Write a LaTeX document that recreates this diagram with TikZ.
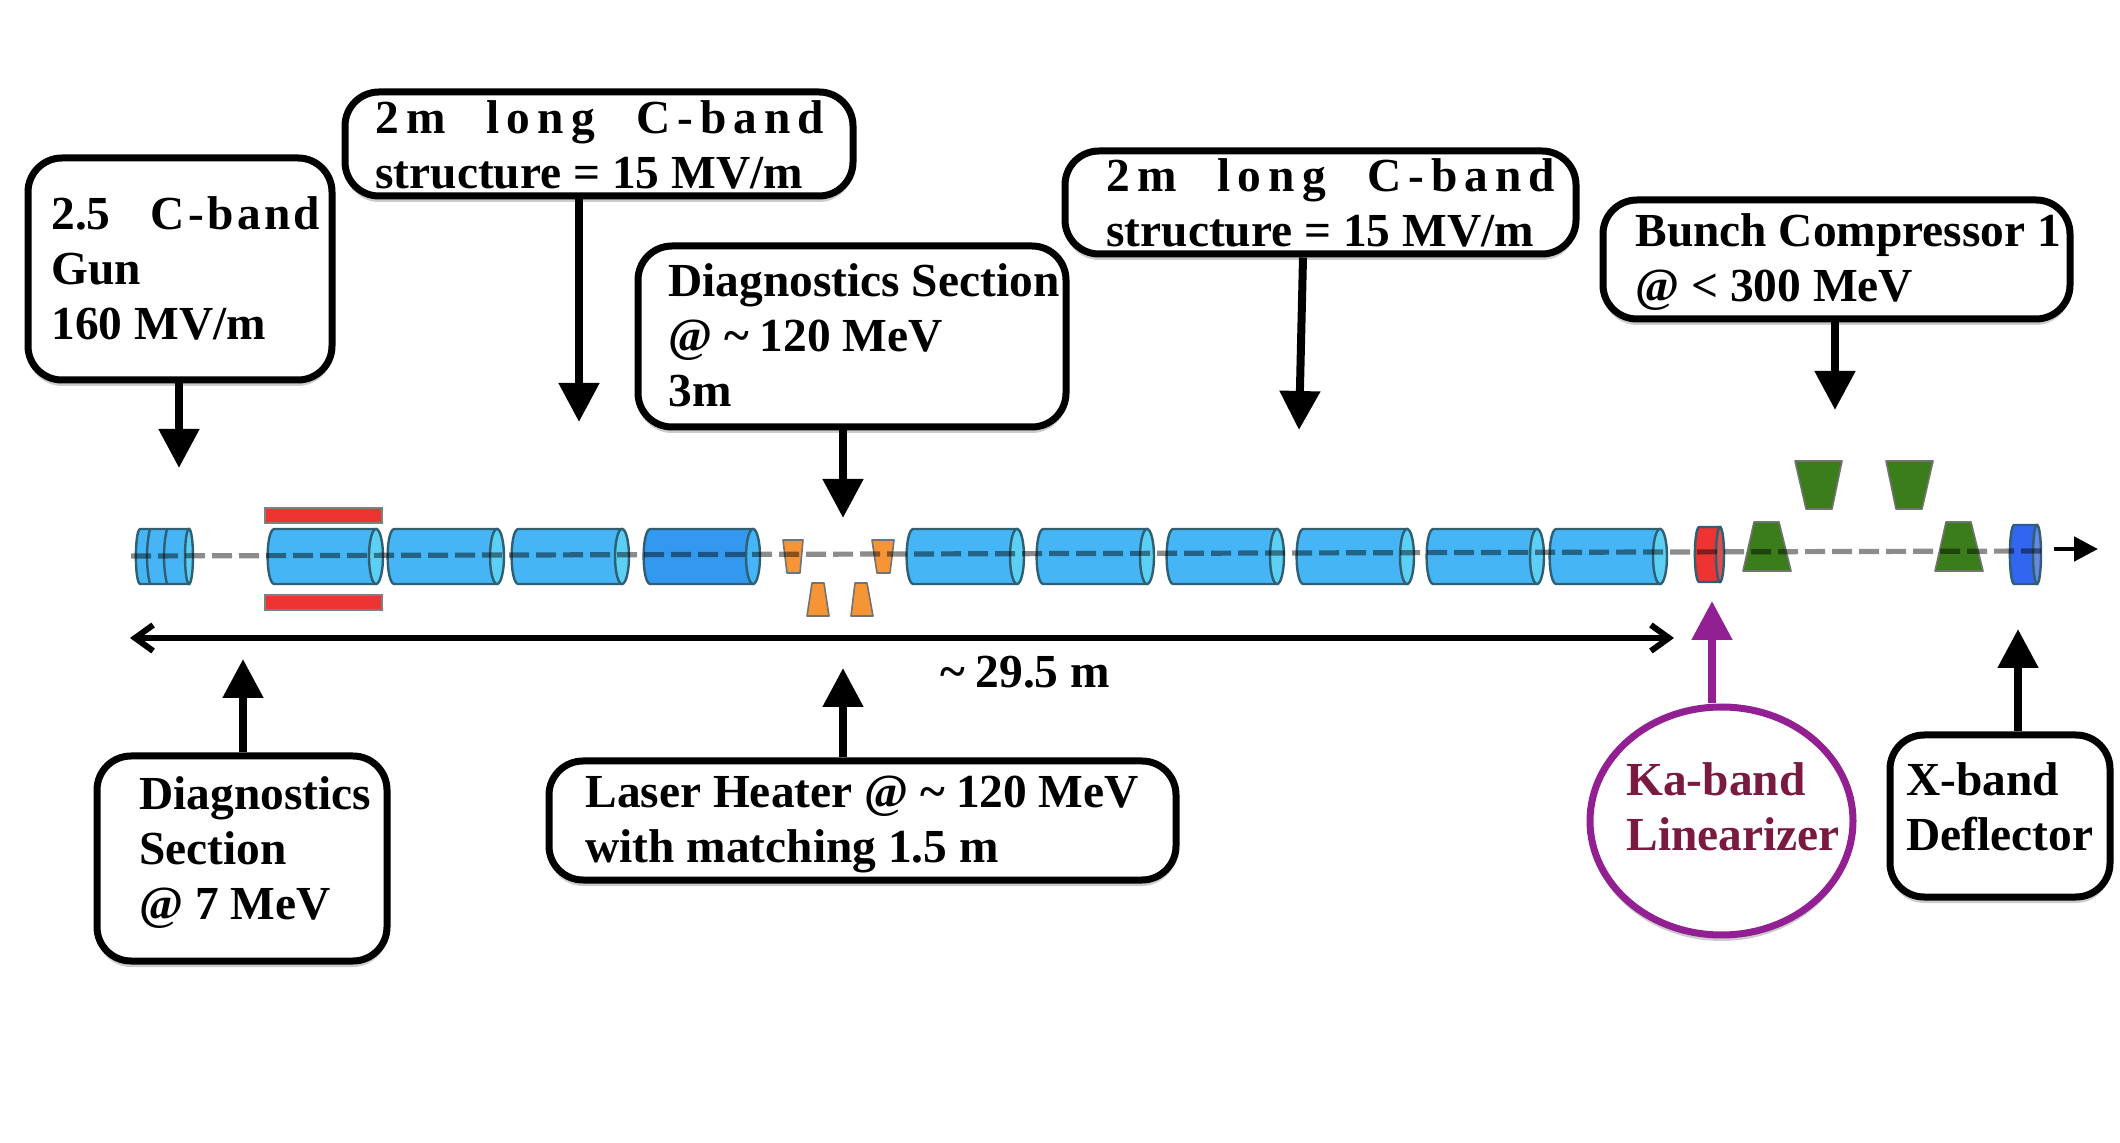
\documentclass[tikz,border=0pt]{standalone}
\usepackage{fontspec}
\setmainfont{Liberation Serif}
\usetikzlibrary{arrows.meta,shapes.geometric,shadows,calc}
\definecolor{cylblue}{HTML}{45B5F5}
\definecolor{capblue}{HTML}{5CCFF5}
\definecolor{deepblue}{HTML}{3399F0}
\definecolor{cyledge}{HTML}{2F5F72}
\definecolor{barred}{HTML}{EE3333}
\definecolor{capred}{HTML}{D85050}
\definecolor{defblue}{HTML}{3366F0}
\definecolor{capdef}{HTML}{6688E0}
\definecolor{bendgreen}{HTML}{3A7D1A}
\definecolor{heatorange}{HTML}{F59535}
\definecolor{kapurple}{HTML}{932092}
\definecolor{kamaroon}{HTML}{7A1A40}
\newcommand\fl[3]{\makebox[#1pt][s]{\addfontfeature{LetterSpace=#2}#3}}
\newcommand\tld{\textasciitilde\hspace{5.5pt}}
% x1 x2 ytop ybot cap-rx body cap
\newcommand\cyl[7]{%
  \pgfmathsetmacro\ex{#2-#5}\pgfmathsetmacro\lx{#1+#5}\pgfmathsetmacro\my{(#3+#4)/2}\pgfmathsetmacro\ry{(#4-#3)/2}%
  \pgfmathsetmacro\ya{#3+2}\pgfmathsetmacro\yb{#4-2}\pgfmathsetmacro\xa{#1-1.5}%
  \draw[cylline,fill=#6] (\lx,#3) .. controls (\xa,\ya) and (\xa,\yb) .. (\lx,#4) -- (\ex,#4) -- (\ex,#3) -- cycle;
  \draw[cylline,fill=#7] (\ex,\my) ellipse [x radius=#5, y radius=\ry];
}
% xtopL xtopR xbotL xbotR ytop ybot colour
\newcommand\trp[7]{\draw[trapline,fill=#7] (#1,#5) -- (#2,#5) -- (#4,#6) -- (#3,#6) -- cycle;}
% name x1 y1 x2 y2 : rounded box
\newcommand\bx[5]{%
  \pgfmathsetmacro\bw{(#4-#2)*0.5}\pgfmathsetmacro\bh{(#5-#3)*0.5}%
  \node[callout,minimum width=\bw pt,minimum height=\bh pt] (#1) at ({(#2+#4)/2},{(#3+#5)/2}) {};
}
\tikzset{
  callout/.style={draw=black,line width=3.5pt,fill=white,rounded corners=17pt,inner sep=0pt,
     drop shadow={shadow xshift=0pt,shadow yshift=-3pt,opacity=.2,fill=black}},
  label/.style={anchor=west,inner sep=0pt,align=left,text=black,
     font=\fontsize{23.7}{27.5}\selectfont\bfseries},
  pointer/.style={draw=black,line width=4pt,-{Triangle[length=19.5pt,width=19.5pt]}},
  cylline/.style={draw=cyledge,line width=1.2pt},
  trapline/.style={draw=black!55,line width=.8pt,line join=round},
  beam/.style={draw=black,opacity=.45,line width=2.6pt,dash pattern=on 10pt off 3.5pt},
  barbox/.style={draw=black!50,line width=.7pt,fill=barred},
}
\begin{document}
\begin{tikzpicture}[x=.5pt,y=-.5pt]
\useasboundingbox (0,0) rectangle (2120,1143);
\fill[white] (0,0) rectangle (2120,1143);

% ---- beamline elements
\cyl{136}{193}{529}{584}{4}{cylblue}{capblue}
\draw[cylline] (150,529) .. controls (146,545) and (146,568) .. (150,584);
\draw[cylline] (167,529) .. controls (163,545) and (163,568) .. (167,584);
\draw[barbox] (265,508) rectangle (382,523);
\draw[barbox] (265,595) rectangle (382,610);
\cyl{267}{383}{529}{584}{7}{cylblue}{capblue}
\cyl{387}{504}{529}{584}{7}{cylblue}{capblue}
\cyl{511}{629}{529}{584}{7}{cylblue}{capblue}
\cyl{643}{760}{529}{584}{7}{deepblue}{cylblue}
\trp{783}{803}{787}{800}{540}{573}{heatorange}
\trp{872}{894}{877}{890}{540}{573}{heatorange}
\trp{812}{824}{807}{829}{583}{616}{heatorange}
\trp{855}{867}{851}{873}{583}{616}{heatorange}
\cyl{906}{1024}{529}{584}{7}{cylblue}{capblue}
\cyl{1036}{1154}{529}{584}{7}{cylblue}{capblue}
\cyl{1166}{1284}{529}{584}{7}{cylblue}{capblue}
\cyl{1296}{1414}{529}{584}{7}{cylblue}{capblue}
\cyl{1426}{1544}{529}{584}{7}{cylblue}{capblue}
\cyl{1549}{1667}{529}{584}{7}{cylblue}{capblue}
\cyl{1695}{1724}{527}{582}{4}{barred}{capred}
\trp{1754}{1779}{1743}{1791}{522}{571}{bendgreen}
\trp{1795}{1842}{1806}{1832}{461}{509}{bendgreen}
\trp{1886}{1933}{1896}{1922}{461}{509}{bendgreen}
\trp{1946}{1971}{1935}{1983}{522}{571}{bendgreen}
\cyl{2010}{2041}{525}{584}{4}{defblue}{capdef}

% ---- beam axis
\coordinate (beamL) at (131,556);
\coordinate (beamR) at (2046,551);
\draw[beam] (beamL) -- (beamR);
\coordinate (beamS) at (2054,549);
\coordinate (beamE) at (2098,549);
\draw[draw=black,line width=2.4pt,-{Triangle[length=12pt,width=12pt]}] (beamS) -- (beamE);

% ---- overall length
\coordinate (lenL) at (130,638);
\coordinate (lenR) at (1674,638);
\draw[draw=black,line width=3pt,{Straight Barb[length=9pt,width=13pt,line width=3pt]}-{Straight Barb[length=9pt,width=13pt,line width=3pt]}] (lenL) -- (lenR);
\node[label,anchor=center] (lenT) at (1025,672) {\tld 29.5 m};

% ---- callouts
\bx{gun}{28}{158}{332}{380}
\bx{cband}{345}{92}{853}{196}
\bx{diagB}{638}{246}{1066}{427}
\bx{cbandB}{1065}{151}{1576}{254}
\bx{bco}{1603}{200}{2070}{319}
\bx{diagA}{97}{756}{387}{961}
\bx{heater}{549}{761}{1176}{880}
\bx{xband}{1890}{735}{2110}{897}
\node[ellipse,draw=kapurple,line width=3.5pt,fill=white,inner sep=0pt,minimum width=131.5pt,minimum height=114pt,
      drop shadow={shadow xshift=0pt,shadow yshift=-3pt,opacity=.2,fill=black}] (ka) at (1721.5,821) {};

\node[label] (gunT) at (51,268) {\makebox[134.5pt][s]{2.5 \hspace{4pt}{\addfontfeature{LetterSpace=7}C-band}}\\Gun\\160 MV/m};
\node[label] (cbandT) at (375,144.5) {\fl{224.5}{15}{2m long C-band}\\structure = 15 MV/m};
\node[label] (diagBT) at (668,335) {Diagnostics Section\\@ \tld 120 MeV\\3m};
\node[label] (cbandBT) at (1106,202.5) {\fl{224.5}{15}{2m long C-band}\\structure = 15 MV/m};
\node[label] (bcoT) at (1635,262) {Bunch Compressor 1\\@ < 300 MeV};
\node[label] (diagAT) at (139,853) {Diagnostics\\Section\\@ 7 MeV};
\node[label] (heaterT) at (585,824) {Laser Heater @ \tld 120 MeV\\with matching 1.5 m};
\node[label,text=kamaroon] (kaT) at (1626,807) {Ka-band\\Linearizer};
\node[label] (xbandT) at (1906,807) {X-band\\Deflector};

% ---- pointers
\coordinate (gunTip) at (179,468);
\coordinate (cbandTip) at (579,422);
\coordinate (diagBTip) at (843,518);
\coordinate (cbandBTip) at (1299,430);
\coordinate (bcoTip) at (1835,410);
\coordinate (diagATip) at (243,659);
\coordinate (heaterTip) at (843,668);
\coordinate (kaTip) at (1712,601);
\coordinate (xbandTip) at (2018,629);
\draw[pointer] (gunTip |- gun.south) -- (gunTip);
\draw[pointer] (cbandTip |- cband.south) -- (cbandTip);
\draw[pointer] (diagBTip |- diagB.south) -- (diagBTip);
\draw[pointer] ($(cbandBTip |- cbandB.south)+(4,0)$) -- (cbandBTip);
\draw[pointer] (bcoTip |- bco.south) -- (bcoTip);
\draw[pointer] (diagATip |- diagA.north) -- (diagATip);
\draw[pointer] (heaterTip |- heater.north) -- (heaterTip);
\draw[pointer,draw=kapurple,fill=kapurple,-{Triangle[length=19.5pt,width=19.5pt,fill=kapurple]}] (kaTip |- ka.north) -- (kaTip);
\draw[pointer] (xbandTip |- xband.north) -- (xbandTip);
\end{tikzpicture}
\end{document}
